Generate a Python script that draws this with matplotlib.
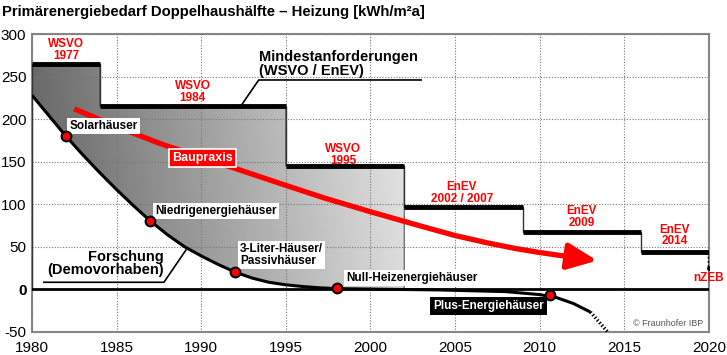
import numpy as np
import matplotlib.pyplot as plt
from matplotlib.path import Path
from matplotlib.patches import PathPatch

plt.rcParams['font.family'] = ['Liberation Sans', 'DejaVu Sans']
plt.rcParams['axes.unicode_minus'] = False

# Mindestanforderungen (Stufen)
std_edges = [1980, 1984, 1995, 2002, 2009, 2016, 2020]
std_values = [265, 215, 145, 97, 67, 44]
std_labels = ["WSVO\n1977", "WSVO\n1984", "WSVO\n1995", "EnEV\n2002 / 2007", "EnEV\n2009", "EnEV\n2014"]
std_label_x = [1982.0, 1989.5, 1998.4, 2005.4, 2012.5, 2018.0]
std_label_y = [281, 232, 158, 113, 85, 63]
nzeb_y = [44, 25]

# Forschung (Demovorhaben)
forsch_x = [1980, 1981, 1982, 1983, 1984, 1985, 1986, 1987, 1988, 1989, 1990, 1991,
            1992, 1993, 1994, 1995, 1996, 1997, 1998, 2000, 2002, 2004, 2006, 2008,
            2010, 2011, 2012, 2013]
forsch_y = [228, 204, 180, 158, 137, 117, 98, 80, 64, 50, 39, 29,
            20, 13, 8, 5, 3, 1.5, 0.5, 0, -0.5, -1, -2, -3,
            -6.5, -10, -17, -27]
forsch_future_x = [2013, 2014]
forsch_future_y = [-27, -50]

milestones_x = [1982, 1987, 1992, 1998, 2010.6]
milestones_y = [180, 80, 20, 1, -7.5]

# Baupraxis
bau_x = [1982.5, 1985, 1987.6, 1990, 1992.3, 1994.7, 1997.3, 2000, 2003, 2005, 2007, 2008.5,
         2010, 2011.6, 2013.4]
bau_y = [212, 191, 171, 155, 140, 124, 107, 91, 74, 63, 54, 48, 43, 38.5, 33.5]

fig = plt.figure(figsize=(7.27, 3.55), dpi=100)
ax = fig.add_axes([0.044, 0.066, 0.931, 0.838])

# gray gradient area between standard and research curve
top_x = [1980, 1984, 1984, 1995, 1995, 2002]
top_y = [265, 265, 215, 215, 145, 145]
low = [(x, y) for x, y in zip(forsch_x, forsch_y) if x <= 2002]
verts = list(zip(top_x, top_y)) + low[::-1]
clip = PathPatch(Path(verts + [verts[0]], closed=True), fc='none', ec='#555', lw=0.8, zorder=1.2)
ax.add_patch(clip)
gx, gy = np.meshgrid(np.linspace(0, 1, 200), np.linspace(0, 1, 150))
shade = 0.38 + 0.48 * gx + 0.04 * gy
img = ax.imshow(shade, cmap='gray', vmin=0, vmax=1, origin='lower',
                extent=[1980, 2002, -5, 270], aspect='auto', zorder=1)
img.set_clip_path(clip)

ax.grid(True, color='#777', lw=0.8, linestyle=(0, (1, 1.5)))
ax.set_axisbelow(False)

# standards
ax.stairs(std_values, std_edges, color='#333', lw=1, zorder=3)
ax.hlines(std_values, std_edges[:-1], std_edges[1:], color='black', lw=3.5, zorder=3.5)
ax.plot([2020, 2020], nzeb_y, color='black', lw=2.5, linestyle=(0, (0.6, 0.6)), zorder=3.5)
ax.plot([2020], [nzeb_y[1]], 'o', color='black', ms=2.5, zorder=3.5)
for lab, lx, ly in zip(std_labels, std_label_x, std_label_y):
    ax.text(lx, ly, lab, color='red', fontsize=8.5, fontweight='bold', ha='center', va='center',
            linespacing=0.95, zorder=5)
ax.text(2020, 13, "nZEB", color='red', fontsize=8.5, fontweight='bold', ha='center', va='center', zorder=5)

# zero line
ax.plot([1980, 2020], [0, 0], color='black', lw=2, zorder=3)

# research curve
ax.plot(forsch_x, forsch_y, color='black', lw=2.2, zorder=4, solid_capstyle='butt')
ax.plot(forsch_future_x, forsch_future_y, color='black', lw=2.5, linestyle=(0, (0.4, 0.6)), zorder=4)
ax.plot(milestones_x, milestones_y, 'o', ms=7, mfc='red', mec='black', mew=1.5, zorder=6)

white_box = dict(boxstyle='square,pad=0.2', fc='white', ec='none')
ax.text(1982.2, 192, "Solarhäuser", fontsize=8.5, fontweight='bold', va='center', bbox=white_box, zorder=5)
ax.text(1987.3, 92, "Niedrigenergiehäuser", fontsize=8.5, fontweight='bold', va='center', bbox=white_box, zorder=5)
ax.text(1992.3, 40, "3-Liter-Häuser/\nPassivhäuser", fontsize=8.5, fontweight='bold', va='center',
        linespacing=0.95, bbox=white_box, zorder=5)
ax.text(1998.6, 13, "Null-Heizenergiehäuser", fontsize=8.5, fontweight='bold', va='center', bbox=white_box, zorder=5)
ax.text(2003.7, -19.5, "Plus-Energiehäuser", fontsize=8.5, fontweight='bold', va='center', color='white',
        bbox=dict(boxstyle='square,pad=0.25', fc='black', ec='none'), zorder=5)

# Baupraxis arrow
ax.plot(bau_x[:-1], bau_y[:-1], color='red', lw=3.8, zorder=4.5, solid_capstyle='butt',
        solid_joinstyle='round')
ax.annotate('', xy=(bau_x[-1], bau_y[-1]), xytext=(bau_x[-2], bau_y[-2]),
            arrowprops=dict(arrowstyle='-|>,head_length=1.8,head_width=0.8', color='red', lw=3.8,
                            shrinkA=0, shrinkB=0), zorder=4.5)
ax.text(1990.05, 154.5, "Baupraxis", color='white', fontsize=9, fontweight='bold', ha='center', va='center',
        bbox=dict(boxstyle='square,pad=0.25', fc='red', ec='white', lw=1.2), zorder=6)

# headline labels with leader lines
ax.text(1993.4, 265, "Mindestanforderungen\n(WSVO / EnEV)", fontsize=10.5, fontweight='bold',
        ha='left', va='center', linespacing=0.95, zorder=5)
ax.plot([1992.4, 1993.4, 2003.0], [217, 246, 246], color='black', lw=1.2, zorder=5)
ax.text(1987.8, 30, "Forschung\n(Demovorhaben)", fontsize=10.5, fontweight='bold',
        ha='right', va='center', linespacing=0.95, zorder=5)
ax.plot([1980.7, 1987.8, 1989.1], [8, 8, 46], color='black', lw=1.2, zorder=5)

ax.text(2019.7, -40, "© Fraunhofer IBP", fontsize=6.5, color='#555', ha='right', va='center', zorder=5)

ax.set_xlim(1980, 2020)
ax.set_ylim(-50, 300)
ax.set_xticks(range(1980, 2021, 5))
ax.set_yticks(range(-50, 301, 50))
ax.tick_params(length=0, labelsize=11)
ax.tick_params(axis='x', pad=7)
ax.tick_params(axis='y', pad=4)
for lbl in ax.get_yticklabels():
    if lbl.get_text() == '0':
        lbl.set_fontweight('bold')
for s in ax.spines.values():
    s.set_color('#888')
    s.set_linewidth(1.5)

fig.text(0.003, 0.965, "Primärenergiebedarf Doppelhaushälfte – Heizung [kWh/m²a]",
         fontsize=10.75, fontweight='bold', va='center')

fig.savefig("out.png", dpi=100)
